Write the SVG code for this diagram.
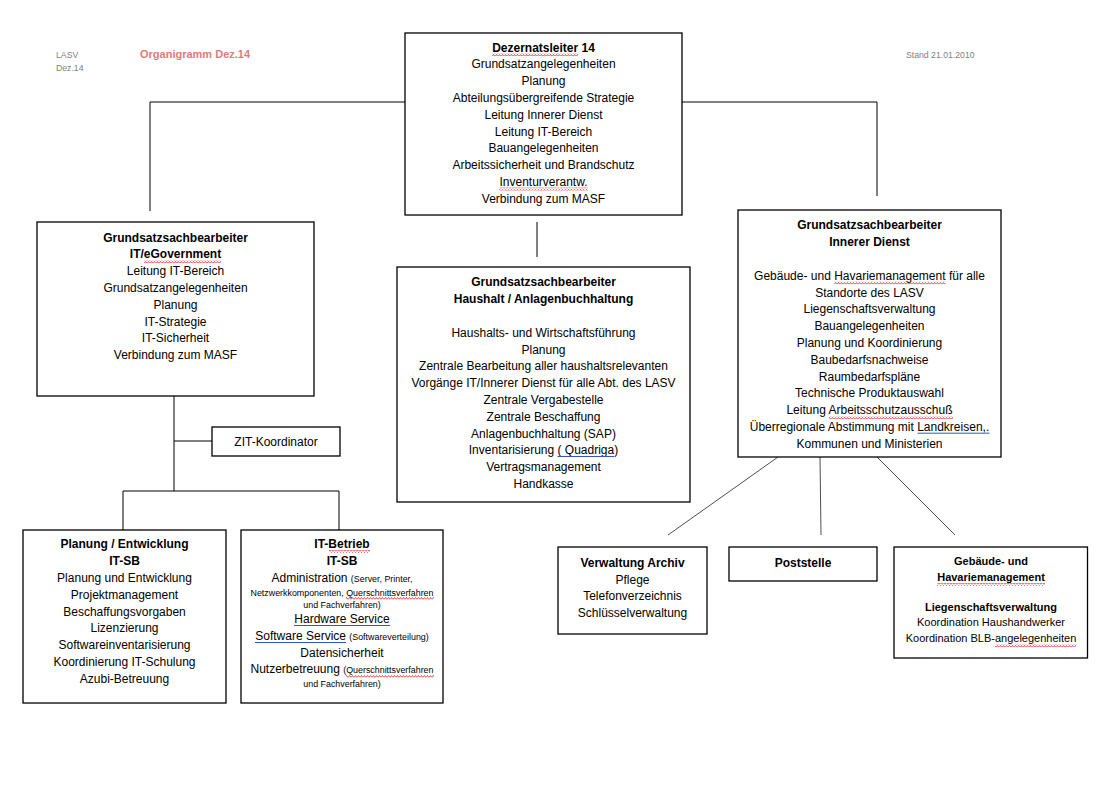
<svg xmlns="http://www.w3.org/2000/svg" width="1115" height="788" viewBox="0 0 1115 788">
<style>
text{font-family:"Liberation Sans",Arial,sans-serif;font-size:12px;fill:#000;text-anchor:middle}
.b{font-weight:bold}
.s{font-size:8.9px}
.hdr{font-size:8.7px;fill:#808080;text-anchor:start}
.title{font-size:11px;font-weight:bold;fill:#e07a7a;text-anchor:start}
.g11{font-size:11px}
.box{fill:#fff;stroke:#000;stroke-width:1.3}
.ln{fill:none;stroke:#000;stroke-width:1}
.dg{fill:none;stroke:#222;stroke-width:0.8}
.ul{stroke:#3355cc;stroke-width:1}
.wv{fill:url(#wave)}
</style>
<defs>
<pattern id="wave" width="3" height="3" patternUnits="userSpaceOnUse">
<path d="M0,2.5 L1.5,0.5 L3,2.5" fill="none" stroke="#e02020" stroke-width="0.8"/>
</pattern>
</defs>
<rect width="1115" height="788" fill="#fff"/>

<g id="header">
<text class="hdr" x="56" y="57.5">LASV</text>
<text class="hdr" x="56" y="71">Dez.14</text>
<text class="title" x="140" y="58">Organigramm Dez.14</text>
<text class="hdr" x="906" y="58">Stand 21.01.2010</text>
</g>

<g id="connectors">
<path class="ln" d="M405,102 H150 V211"/>
<path class="ln" d="M682,102 H877 V196"/>
<path class="ln" d="M537,222 V257"/>
<path class="ln" d="M174,396 V491"/>
<path class="ln" d="M174,441 H212"/>
<path class="ln" d="M123,530 V491 H339 V530"/>
<path class="dg" d="M778,457 L668,535"/>
<path class="dg" d="M820,457 L821,535"/>
<path class="dg" d="M877,457 L955,535"/>
</g>

<g id="dezernatsleiter">
<rect class="box" x="405" y="33" width="277" height="182"/>
<text class="b" x="543.5" y="51.5">Dezernatsleiter 14</text>
<text x="543.5" y="68.3">Grundsatzangelegenheiten</text>
<text x="543.5" y="85.1">Planung</text>
<text x="543.5" y="101.9">Abteilungsübergreifende Strategie</text>
<text x="543.5" y="118.7">Leitung Innerer Dienst</text>
<text x="543.5" y="135.5">Leitung IT-Bereich</text>
<text x="543.5" y="152.3">Bauangelegenheiten</text>
<text x="543.5" y="169.1">Arbeitssicherheit und Brandschutz</text>
<text x="543.5" y="185.9">Inventurverantw.</text>
<text x="543.5" y="202.7">Verbindung zum MASF</text>
<rect class="wv" x="492" y="53" width="86" height="3"/>
<rect class="wv" x="499" y="187.5" width="89" height="3"/>
</g>

<g id="it-egovernment">
<rect class="box" x="37" y="222" width="277" height="174"/>
<text class="b" x="175.5" y="241.5">Grundsatzsachbearbeiter</text>
<text class="b" x="175.5" y="258.3">IT/eGovernment</text>
<text x="175.5" y="275.1">Leitung IT-Bereich</text>
<text x="175.5" y="291.9">Grundsatzangelegenheiten</text>
<text x="175.5" y="308.7">Planung</text>
<text x="175.5" y="325.5">IT-Strategie</text>
<text x="175.5" y="342.3">IT-Sicherheit</text>
<text x="175.5" y="359.1">Verbindung zum MASF</text>
<rect class="wv" x="144" y="260" width="77" height="3"/>
</g>

<g id="zit">
<rect class="box" x="212" y="427" width="128" height="29"/>
<text x="276" y="445.5">ZIT-Koordinator</text>
</g>

<g id="planung">
<rect class="box" x="23" y="530" width="203" height="173"/>
<text class="b" x="124.5" y="548.3">Planung / Entwicklung</text>
<text class="b" x="124.5" y="565.1">IT-SB</text>
<text x="124.5" y="581.9">Planung und Entwicklung</text>
<text x="124.5" y="598.7">Projektmanagement</text>
<text x="124.5" y="615.5">Beschaffungsvorgaben</text>
<text x="124.5" y="632.3">Lizenzierung</text>
<text x="124.5" y="649.1">Softwareinventarisierung</text>
<text x="124.5" y="665.9">Koordinierung IT-Schulung</text>
<text x="124.5" y="682.7">Azubi-Betreuung</text>
</g>

<g id="it-betrieb">
<rect class="box" x="241" y="530" width="202" height="173"/>
<text class="b" x="342" y="548.3">IT-Betrieb</text>
<text class="b" x="342" y="564.8">IT-SB</text>
<text x="342" y="581.5">Administration <tspan class="s">(Server, Printer,</tspan></text>
<text class="s" x="342" y="595.5">Netzwerkkomponenten, Querschnittsverfahren</text>
<text class="s" x="342" y="607.5">und Fachverfahren)</text>
<text x="342" y="623.3">Hardware Service</text>
<text x="342" y="640.2">Software Service <tspan class="s">(Softwareverteilung)</tspan></text>
<text x="342" y="656.5">Datensicherheit</text>
<text x="342" y="673">Nutzerbetreuung <tspan class="s">(Querschnittsverfahren</tspan></text>
<text class="s" x="342" y="687">und Fachverfahren)</text>
<rect class="wv" x="329" y="550" width="41" height="3"/>
<rect class="wv" x="346" y="597" width="88" height="3"/>
<rect class="wv" x="346" y="675" width="88" height="3"/>
<line class="ul" x1="294" y1="625.5" x2="390" y2="625.5"/>
<line class="ul" x1="255" y1="642.5" x2="346" y2="642.5"/>
</g>

<g id="haushalt">
<rect class="box" x="397" y="267" width="293" height="235"/>
<text class="b" x="543.5" y="286.3">Grundsatzsachbearbeiter</text>
<text class="b" x="543.5" y="303.1">Haushalt / Anlagenbuchhaltung</text>
<text x="543.5" y="336.7">Haushalts- und Wirtschaftsführung</text>
<text x="543.5" y="353.5">Planung</text>
<text x="543.5" y="370.3">Zentrale Bearbeitung aller haushaltsrelevanten</text>
<text x="543.5" y="387.1">Vorgänge IT/Innerer Dienst für alle Abt. des LASV</text>
<text x="543.5" y="403.9">Zentrale Vergabestelle</text>
<text x="543.5" y="420.7">Zentrale Beschaffung</text>
<text x="543.5" y="437.5">Anlagenbuchhaltung (SAP)</text>
<text x="543.5" y="454.3">Inventarisierung ( Quadriga)</text>
<text x="543.5" y="471.1">Vertragsmanagement</text>
<text x="543.5" y="487.9">Handkasse</text>
<line class="ul" x1="557.5" y1="456.5" x2="614" y2="456.5"/>
</g>

<g id="innerer-dienst">
<rect class="box" x="738" y="210" width="263" height="247"/>
<text class="b" x="869.5" y="229.3">Grundsatzsachbearbeiter</text>
<text class="b" x="869.5" y="246.1">Innerer Dienst</text>
<text x="869.5" y="279.7">Gebäude- und Havariemanagement für alle</text>
<text x="869.5" y="296.5">Standorte des LASV</text>
<text x="869.5" y="313.3">Liegenschaftsverwaltung</text>
<text x="869.5" y="330.1">Bauangelegenheiten</text>
<text x="869.5" y="346.9">Planung und Koordinierung</text>
<text x="869.5" y="363.7">Baubedarfsnachweise</text>
<text x="869.5" y="380.5">Raumbedarfspläne</text>
<text x="869.5" y="397.3">Technische Produktauswahl</text>
<text x="869.5" y="414.1">Leitung Arbeitsschutzausschuß</text>
<text x="869.5" y="430.9">Überregionale Abstimmung mit Landkreisen,.</text>
<text x="869.5" y="447.7">Kommunen und Ministerien</text>
<rect class="wv" x="834" y="281.5" width="111.5" height="3"/>
<rect class="wv" x="829" y="416" width="124" height="3"/>
<line class="ul" x1="917.5" y1="433.2" x2="989.5" y2="433.2"/>
</g>

<g id="archiv">
<rect class="box" x="558" y="547" width="149" height="87"/>
<text class="b" x="632.5" y="567.3">Verwaltung Archiv</text>
<text x="632.5" y="583.5">Pflege</text>
<text x="632.5" y="600.3">Telefonverzeichnis</text>
<text x="632.5" y="617">Schlüsselverwaltung</text>
</g>

<g id="poststelle">
<rect class="box" x="729" y="547" width="148" height="34"/>
<text class="b" x="803" y="567.3">Poststelle</text>
</g>

<g id="gebaeude">
<rect class="box" x="894" y="547" width="193.5" height="111"/>
<text class="b g11" x="991" y="565">Gebäude- und</text>
<text class="b g11" x="991" y="581">Havariemanagement</text>
<text class="b g11" x="991" y="611">Liegenschaftsverwaltung</text>
<text class="g11" x="991" y="626">Koordination Haushandwerker</text>
<text class="g11" x="991" y="642">Koordination BLB-angelegenheiten</text>
<rect class="wv" x="937" y="583" width="108" height="3"/>
<rect class="wv" x="995" y="644" width="81" height="3"/>
</g>
</svg>
